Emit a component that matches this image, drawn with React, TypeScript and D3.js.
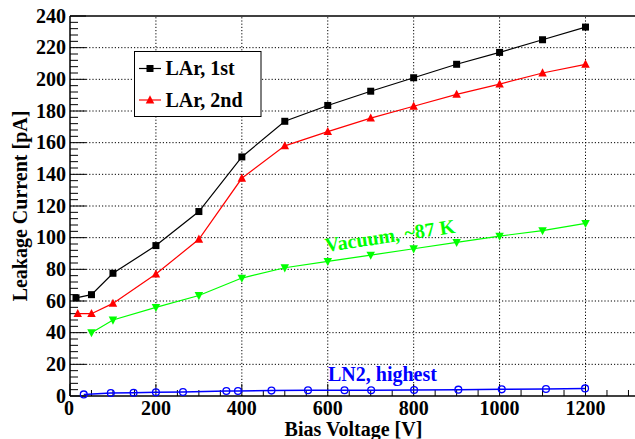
import React from "react";
import * as d3 from "d3";

const xTicks = [0, 200, 400, 600, 800, 1000, 1200];
const yTicks = [0, 20, 40, 60, 80, 100, 120, 140, 160, 180, 200, 220, 240];

const lar1V = [14, 50, 100, 200, 300, 400, 500, 600, 700, 800, 900, 1000, 1100, 1200];
const lar1I = [62, 64, 77.5, 95, 116.5, 151, 173.5, 183.5, 192.5, 201, 209.5, 217, 225, 233];

const lar2V = [18, 50, 100, 200, 300, 400, 500, 600, 700, 800, 900, 1000, 1100, 1200];
const lar2I = [52, 52, 58.5, 77, 99, 137.5, 158, 167, 175.5, 183, 190.5, 197, 204, 209.5];

const vacV = [50, 100, 200, 300, 400, 500, 600, 700, 800, 900, 1000, 1100, 1200];
const vacI = [40, 48, 56, 63.5, 74.5, 81, 85, 89, 93, 97, 101, 104.5, 109];

const ln2V = [32, 95, 148, 200, 263, 364, 391, 469, 554, 639, 701, 801, 904, 1005, 1108, 1199];
const ln2I = [1.0, 1.9, 2.1, 2.3, 2.5, 3.2, 3.2, 3.4, 3.6, 3.6, 3.6, 3.8, 4.0, 4.2, 4.4, 4.8];

const legendLabels = ["LAr, 1st", "LAr, 2nd"];
const xTitle = "Bias Voltage [V]";
const yTitle = "Leakage Current [pA]";
const vacLabel = "Vacuum, ~87 K";
const ln2Label = "LN2, highest";

export default function App() {
  const W = 635, H = 439;
  const x = d3.scaleLinear().domain([0, 1320]).range([70, 70 + 1320 * (515.5 / 1200)]);
  const y = d3.scaleLinear().domain([0, 240]).range([396, 16]);
  const x0 = x(0), x1 = x.range()[1];
  const y0 = y(0), y1 = y(240);

  const line = d3.line<[number, number]>().x(d => x(d[0])).y(d => y(d[1]));
  const pts = (vs: number[], is: number[]) => vs.map((v, i) => [v, is[i]] as [number, number]);

  const xMinor = d3.range(0, 1320 + 1, 50);
  const yMinor = d3.range(0, 241, 4);

  const sq = 7;
  const triUp = (cx: number, cy: number, s = 8.5) =>
    `M${cx},${cy - s * 0.55}L${cx + s / 2},${cy + s * 0.4}L${cx - s / 2},${cy + s * 0.4}Z`;
  const triDown = (cx: number, cy: number, s = 8.5) =>
    `M${cx},${cy + s * 0.55}L${cx + s / 2},${cy - s * 0.4}L${cx - s / 2},${cy - s * 0.4}Z`;

  return (
    <svg width={W} height={H} style={{ position: "absolute", left: 0, top: 0, background: "#fff" }}>
      <style>{`text{font-family:"Liberation Serif","Times New Roman",Times,serif;font-weight:700;}`}</style>
      <rect x={0} y={0} width={W} height={H} fill="#fff" />
      {/* grid */}
      <g stroke="#000" strokeWidth={1} strokeDasharray="1.2,2">
        {xTicks.filter(t => t > 0).map(t => (
          <line key={"gx" + t} x1={x(t)} x2={x(t)} y1={y0} y2={y1} />
        ))}
        {yTicks.filter(t => t > 0 && t < 240).map(t => (
          <line key={"gy" + t} x1={x0} x2={x1} y1={y(t)} y2={y(t)} />
        ))}
      </g>
      {/* ticks */}
      <g stroke="#000" strokeWidth={1}>
        {yMinor.map(t => (
          <line key={"ym" + t} x1={x0} x2={x0 + (t % 20 === 0 ? 16 : 8)} y1={y(t)} y2={y(t)} />
        ))}
        {xMinor.map(t => (
          <line key={"xm" + t} x1={x(t)} x2={x(t)} y1={y0} y2={y0 - (t % 200 === 0 ? 12 : 6)} />
        ))}
      </g>
      {/* frame */}
      <g stroke="#000" strokeWidth={1.5} fill="none">
        <line x1={x0} x2={x1} y1={y0} y2={y0} />
        <line x1={x0} x2={x1} y1={y1} y2={y1} />
        <line x1={x0} x2={x0} y1={y0} y2={y1} />
      </g>
      {/* tick labels */}
      <g fontSize={20} fill="#000">
        {yTicks.map(t => (
          <text key={"yl" + t} x={66} y={y(t) + 6.5} textAnchor="end">{t}</text>
        ))}
        {xTicks.map(t => (
          <text key={"xl" + t} x={x(t) - (t === 0 ? 1 : 0)} y={415} textAnchor="middle">{t}</text>
        ))}
      </g>
      {/* axis titles */}
      <text x={353.5} y={436} fontSize={20} textAnchor="middle">{xTitle}</text>
      <text transform={`translate(27,${y(120)}) rotate(-90)`} fontSize={20} textAnchor="middle">{yTitle}</text>

      {/* LN2 */}
      <path d={line(pts(ln2V, ln2I)) || ""} fill="none" stroke="#0000ff" strokeWidth={1.5} />
      {ln2V.map((v, i) => (
        <circle key={"c" + i} cx={x(v)} cy={y(ln2I[i])} r={3.4} fill="none" stroke="#0000ff" strokeWidth={1.3} />
      ))}
      {/* Vacuum */}
      <path d={line(pts(vacV, vacI)) || ""} fill="none" stroke="#00ff00" strokeWidth={1.2} />
      {vacV.map((v, i) => (
        <path key={"v" + i} d={triDown(x(v), y(vacI[i]))} fill="#00ff00" />
      ))}
      {/* LAr 2nd */}
      <path d={line(pts(lar2V, lar2I)) || ""} fill="none" stroke="#ff0000" strokeWidth={1.2} />
      {lar2V.map((v, i) => (
        <path key={"r" + i} d={triUp(x(v), y(lar2I[i]))} fill="#ff0000" />
      ))}
      {/* LAr 1st */}
      <path d={line(pts(lar1V, lar1I)) || ""} fill="none" stroke="#000" strokeWidth={1.2} />
      {lar1V.map((v, i) => (
        <rect key={"s" + i} x={x(v) - sq / 2} y={y(lar1I[i]) - sq / 2} width={sq} height={sq} fill="#000" />
      ))}

      {/* labels */}
      <text transform={`translate(326,252) rotate(-8.5)`} fontSize={20} fill="#00ff00">{vacLabel}</text>
      <text x={328} y={381} fontSize={20} fill="#0000ff">{ln2Label}</text>

      {/* legend */}
      <rect x={134.5} y={51.5} width={126.5} height={65} fill="#fff" stroke="#000" strokeWidth={1} />
      <line x1={139} x2={161} y1={68.5} y2={68.5} stroke="#000" strokeWidth={1.2} />
      <rect x={150 - sq / 2} y={68.5 - sq / 2} width={sq} height={sq} fill="#000" />
      <text x={165.5} y={75} fontSize={20} fill="#000">{legendLabels[0]}</text>
      <line x1={139} x2={161} y1={100} y2={100} stroke="#ff0000" strokeWidth={1.2} />
      <path d={triUp(150, 100)} fill="#ff0000" />
      <text x={165.5} y={106.5} fontSize={20} fill="#000">{legendLabels[1]}</text>
    </svg>
  );
}
